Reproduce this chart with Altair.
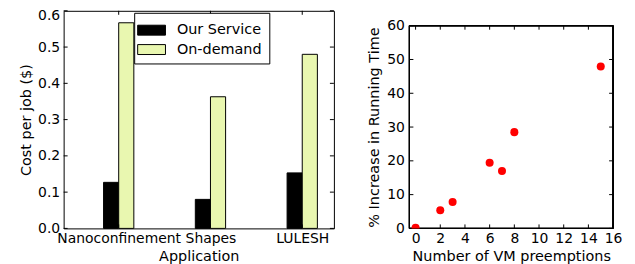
import json
import altair as alt
import pandas as pd

# ---- data ----
apps = ["Nanoconfinement", "Shapes", "LULESH"]
our_service = [0.127, 0.080, 0.153]
on_demand = [0.567, 0.363, 0.480]
series = ["Our Service", "On-demand"]
cost_ticks = [0.0, 0.1, 0.2, 0.3, 0.4, 0.5, 0.6]

preemptions = [0, 2, 3, 6, 7, 8, 15]
increase = [0.2, 5.4, 7.8, 19.4, 17.0, 28.5, 47.9]
pre_ticks = [0, 2, 4, 6, 8, 10, 12, 14, 16]
inc_ticks = [0, 10, 20, 30, 40, 50, 60]
pre_domain = [-0.5, 16]
inc_domain = [0, 60]

FONT = "DejaVu Sans"
LFS = 14     # tick label size
TFS = 14.5   # axis title size
BW = 0.165   # bar width in category units
GREEN = "#e9f7b0"
TL = 4       # inner tick length

LW, LH = 272, 219
RW, RH = 205, 219
RTOP = 15  # right plot starts lower than the left one

# ---- left: bar chart ----
rows = []
for i, a in enumerate(apps):
    rows.append({"app": a, "series": series[0], "x0": i, "x1": i + BW, "v": our_service[i]})
    rows.append({"app": a, "series": series[1], "x0": i + BW, "x1": i + 2 * BW, "v": on_demand[i]})
bars_df = pd.DataFrame(rows)
cat_ticks = [i + BW for i in range(len(apps))]
xt_df = pd.DataFrame({"x0": cat_ticks})
yt_df = pd.DataFrame({"v": cost_ticks})

xdom = [-0.435, 2.51]
label_expr = "%s[round(datum.value - %s)]" % (json.dumps(apps), BW)

xs = alt.Scale(domain=xdom, nice=False, zero=False)
ys = alt.Scale(domain=[0, 0.6], nice=False)
lx_axis = alt.Axis(values=cat_ticks, labelExpr=label_expr, title="Application",
                   labelPadding=3, titlePadding=4, labelOverlap=False)
ly_axis = alt.Axis(values=cost_ticks, format=".1f", title="Cost per job ($)",
                   labelPadding=4, titlePadding=4.5, labelOverlap=False,
                   labelOffset={"condition": {"test": "datum.value >= 0.59", "value": 5},
                                "value": 0})

bars = alt.Chart(bars_df).mark_bar(stroke="black", strokeWidth=1, opacity=1).encode(
    x=alt.X("x0:Q", scale=xs, axis=lx_axis),
    x2="x1:Q",
    y=alt.Y("v:Q", scale=ys, axis=ly_axis),
    y2=alt.datum(0),
    color=alt.Color("series:N", sort=series,
                    scale=alt.Scale(domain=series, range=["black", GREEN]),
                    legend=alt.Legend(title=None, orient="none", legendX=71, legendY=2,
                                      symbolType="M-1.4,-0.5H1.4V0.5H-1.4Z", symbolSize=400,
                                      symbolStrokeColor="black", symbolStrokeWidth=1,
                                      symbolOpacity=1,
                                      labelFont=FONT, labelFontSize=14.5, labelColor="black",
                                      strokeColor="black", fillColor="white",
                                      padding=7, rowPadding=1.5, labelOffset=15)),
)

lt_top = alt.Chart(xt_df).mark_rule(color="black").encode(
    x=alt.X("x0:Q", scale=xs, axis=lx_axis), y=alt.value(0), y2=alt.value(TL))
lt_bot = alt.Chart(xt_df).mark_rule(color="black").encode(
    x=alt.X("x0:Q", scale=xs, axis=lx_axis), y=alt.value(LH - TL), y2=alt.value(LH))
lt_left = alt.Chart(yt_df).mark_rule(color="black").encode(
    y=alt.Y("v:Q", scale=ys, axis=ly_axis), x=alt.value(0), x2=alt.value(TL))
lt_right = alt.Chart(yt_df).mark_rule(color="black").encode(
    y=alt.Y("v:Q", scale=ys, axis=ly_axis), x=alt.value(LW - TL), x2=alt.value(LW))

left = alt.layer(bars, lt_top, lt_bot, lt_left, lt_right).properties(width=LW, height=LH)

# ---- right: scatter ----
sc_df = pd.DataFrame({"p": preemptions, "inc": increase})
px_df = pd.DataFrame({"p": pre_ticks})
py_df = pd.DataFrame({"inc": inc_ticks})
rxs = alt.Scale(domain=pre_domain, nice=False, zero=False)
rys = alt.Scale(domain=inc_domain, nice=False, range=[RH, RTOP])
rx_axis = alt.Axis(values=pre_ticks, title="Number of VM preemptions",
                   labelPadding=3, titlePadding=4, labelFlush=False, labelOverlap=False)
ry_axis = alt.Axis(values=inc_ticks, title="% Increase in Running Time",
                   labelPadding=5, titlePadding=5, labelOverlap=False)

frame = alt.Chart(sc_df).mark_rect(fill=None, stroke="black", strokeWidth=1).encode(
    x=alt.X(datum=pre_domain[0], type="quantitative", scale=rxs, axis=rx_axis),
    x2=alt.X2(datum=pre_domain[1]),
    y=alt.Y(datum=inc_domain[0], type="quantitative", scale=rys, axis=ry_axis),
    y2=alt.Y2(datum=inc_domain[1]),
)

pts = alt.Chart(sc_df).mark_circle(color="#ff0000", opacity=1, size=65, clip=True).encode(
    x=alt.X("p:Q", scale=rxs, axis=rx_axis),
    y=alt.Y("inc:Q", scale=rys, axis=ry_axis),
)
rt_top = alt.Chart(px_df).mark_rule(color="black").encode(
    x=alt.X("p:Q", scale=rxs, axis=rx_axis), y=alt.value(RTOP), y2=alt.value(RTOP + TL))
rt_bot = alt.Chart(px_df).mark_rule(color="black").encode(
    x=alt.X("p:Q", scale=rxs, axis=rx_axis), y=alt.value(RH - TL), y2=alt.value(RH))
rt_left = alt.Chart(py_df).mark_rule(color="black").encode(
    y=alt.Y("inc:Q", scale=rys, axis=ry_axis), x=alt.value(0), x2=alt.value(TL))
rt_right = alt.Chart(py_df).mark_rule(color="black").encode(
    y=alt.Y("inc:Q", scale=rys, axis=ry_axis), x=alt.value(RW - TL), x2=alt.value(RW))

right = alt.layer(frame, rt_top, rt_bot, rt_left, rt_right, pts).properties(
    width=RW, height=RH, view=alt.ViewBackground(stroke=None))

chart = alt.hconcat(left, right, spacing=32).properties(
    padding={"left": 9, "top": -1, "right": 5, "bottom": 0}
).configure_view(stroke="black", strokeWidth=1).configure_axis(
    labelFont=FONT, labelFontSize=LFS, labelColor="black", labelOverlap=False,
    titleFont=FONT, titleFontSize=TFS, titleFontWeight="normal", titleColor="black",
    tickSize=0, domain=False, grid=False, ticks=False,
)

chart.save("out.html", embed_options={"renderer": "svg", "actions": False})
